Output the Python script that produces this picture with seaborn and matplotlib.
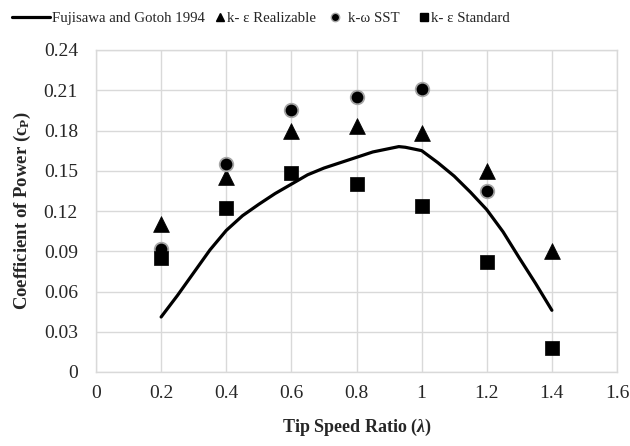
import numpy as np
import pandas as pd
import matplotlib
matplotlib.use("Agg")
import matplotlib.pyplot as plt
import seaborn as sns
from matplotlib.lines import Line2D

# Simulated power coefficients at each tip speed ratio
tsr = [0.2, 0.4, 0.6, 0.8, 1.0, 1.2, 1.4]
cp_realizable = [0.110, 0.145, 0.180, 0.183, 0.178, 0.150, 0.090]
tsr_sst = [0.2, 0.4, 0.6, 0.8, 1.0, 1.2]
cp_sst = [0.092, 0.155, 0.195, 0.205, 0.211, 0.135]
cp_standard = [0.085, 0.122, 0.148, 0.140, 0.124, 0.082, 0.018]

# Experimental curve (Fujisawa and Gotoh 1994)
tsr_exp = [0.20, 0.25, 0.30, 0.35, 0.40, 0.45, 0.50, 0.55, 0.60, 0.65, 0.70,
           0.75, 0.80, 0.85, 0.90, 0.93, 0.95, 1.00, 1.05, 1.10, 1.15, 1.20,
           1.25, 1.30, 1.35, 1.40]
cp_exp = [0.041, 0.057, 0.074, 0.091, 0.1055, 0.1165, 0.125, 0.133, 0.140, 0.147,
          0.152, 0.156, 0.160, 0.164, 0.1665, 0.168, 0.1675, 0.165, 0.156, 0.146,
          0.134, 0.121, 0.1045, 0.085, 0.066, 0.046]

x_ticks = [0, 0.2, 0.4, 0.6, 0.8, 1, 1.2, 1.4, 1.6]
x_tick_labels = ["0", "0.2", "0.4", "0.6", "0.8", "1", "1.2", "1.4", "1.6"]
y_ticks = [0, 0.03, 0.06, 0.09, 0.12, 0.15, 0.18, 0.21, 0.24]
y_tick_labels = ["0", "0.03", "0.06", "0.09", "0.12", "0.15", "0.18", "0.21", "0.24"]

sns.set_style("white")
plt.rcParams["font.family"] = ["Liberation Serif", "DejaVu Serif"]
plt.rcParams["mathtext.fontset"] = "custom"
plt.rcParams["mathtext.rm"] = "Liberation Serif"
plt.rcParams["mathtext.bf"] = "Liberation Serif:bold"
plt.rcParams["mathtext.it"] = "Liberation Serif:italic"
plt.rcParams["mathtext.bfit"] = "Liberation Serif:bold:italic"

fig = plt.figure(figsize=(6.3, 4.46), dpi=100)
ax = fig.add_axes([96 / 630, 1 - 372 / 446, 521 / 630, 322 / 446])

exp_df = pd.DataFrame({"tsr": tsr_exp, "cp": cp_exp})
sns.lineplot(data=exp_df, x="tsr", y="cp", ax=ax, color="black", lw=2.3,
             zorder=3, sort=False)
ax.lines[-1].set_solid_joinstyle("round")

real_df = pd.DataFrame({"tsr": tsr, "cp": cp_realizable})
sst_df = pd.DataFrame({"tsr": tsr_sst, "cp": cp_sst})
std_df = pd.DataFrame({"tsr": tsr, "cp": cp_standard})

sns.scatterplot(data=real_df, x="tsr", y="cp", ax=ax, marker="^", s=130,
                color="black", edgecolor="black", linewidth=0.5, zorder=4)
sns.scatterplot(data=sst_df, x="tsr", y="cp", ax=ax, marker="o", s=95,
                color="black", edgecolor="#a6a6a6", linewidth=1.3, zorder=4)
sns.scatterplot(data=std_df, x="tsr", y="cp", ax=ax, marker="s", s=110,
                color="black", edgecolor="black", linewidth=0.5, zorder=4)

ax.set_xlim(0, 1.6)
ax.set_ylim(0, 0.24)
ax.set_xticks(x_ticks)
ax.set_xticklabels(x_tick_labels)
ax.set_yticks(y_ticks)
ax.set_yticklabels(y_tick_labels)
ax.tick_params(axis="both", length=0, labelsize=14)
ax.tick_params(axis="y", pad=13)
ax.tick_params(axis="x", pad=9)
ax.grid(True, color="#d9d9d9", lw=1.0)
ax.set_axisbelow(True)
for sp in ax.spines.values():
    sp.set_color("#d9d9d9")
    sp.set_linewidth(1.0)

ax.set_xlabel(r"Tip Speed Ratio ($\mathbfit{\lambda}$)", fontsize=13,
              fontweight="bold", labelpad=11)
ax.set_ylabel(r"Coefficient of Power ($\mathbf{c_{P}}$)", fontsize=13.5,
              fontweight="bold", labelpad=8)

# Legend row across the top: one entry per legend so spacing can be set per item
legend_y = 1 - 18 / 446
entries = [
    (Line2D([], [], color="black", lw=2.3), "Fujisawa and Gotoh 1994",
     12, 2.55, 0.13),
    (Line2D([], [], ls="none", marker="^", color="black", markersize=6),
     "k- ε Realizable", 215.5, 0.6, 0.15),
    (Line2D([], [], ls="none", marker="o", color="black",
            markeredgecolor="#a6a6a6", markeredgewidth=1.0, markersize=6),
     "k-ω SST", 330.5, 0.6, 0.55),
    (Line2D([], [], ls="none", marker="s", color="black", markersize=5.5),
     "k- ε Standard", 419.5, 0.6, 0.2),
]
for handle, label, left_px, hlen, hpad in entries:
    leg = fig.legend([handle], [label], loc="center left",
                     bbox_to_anchor=(left_px / 630, legend_y), frameon=False,
                     fontsize=10.7, handlelength=hlen, handletextpad=hpad,
                     borderpad=0, borderaxespad=0)

fig.savefig("out.png", dpi=100)
